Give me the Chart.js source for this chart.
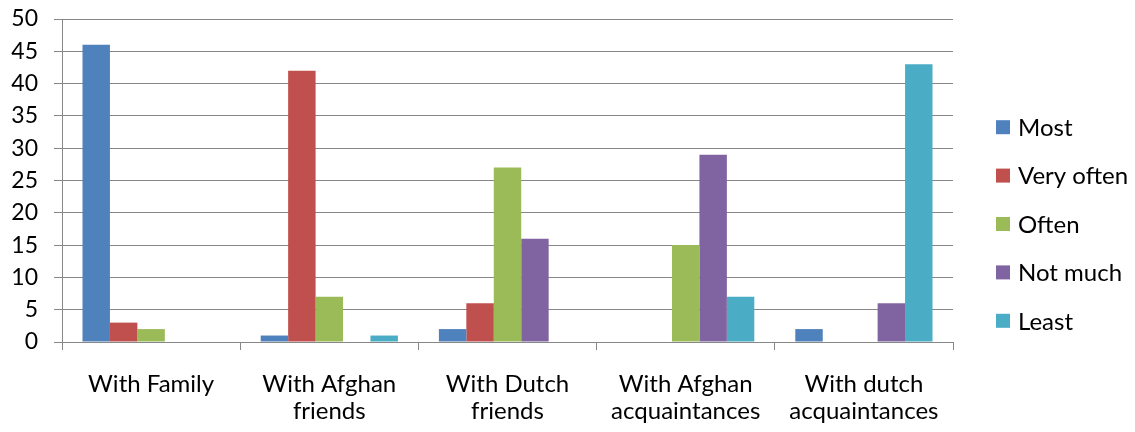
<!DOCTYPE html>
<html>
<head>
<meta charset="utf-8">
<script src="https://cdn.jsdelivr.net/npm/chart.js@4/dist/chart.umd.min.js"></script>
<style>
  html, body { margin: 0; padding: 0; background: #ffffff; }
  #wrap { width: 1135px; height: 432px; position: relative; }
</style>
</head>
<body>
<div id="wrap"><canvas id="chart"></canvas></div>
<script>
// Contact frequency per group
const categories = [
  ['With Family'],
  ['With Afghan', 'friends'],
  ['With Dutch', 'friends'],
  ['With Afghan', 'acquaintances'],
  ['With dutch', 'acquaintances']
];
const seriesNames = ['Most', 'Very often', 'Often', 'Not much', 'Least'];
const most      = [46, 1, 2, 0, 2];
const veryOften = [3, 42, 6, 0, 0];
const often     = [2, 7, 27, 15, 0];
const notMuch   = [0, 0, 16, 29, 6];
const least     = [0, 1, 0, 7, 43];
const yTicks    = [0, 5, 10, 15, 20, 25, 30, 35, 40, 45, 50];

const seriesValues = [most, veryOften, often, notMuch, least];
const seriesColors = ['#4F81BD', '#C0504D', '#9BBB59', '#8064A2', '#4BACC6'];

const FONT = 'Lato, "Open Sans", "DejaVu Sans", sans-serif';
const TICK_SIZE = 23;
const LABEL_SIZE = 24;
const GRID = '#878787';

// Legend on the right: colour square plus series name, stacked vertically
const sideLegend = {
  id: 'sideLegend',
  afterDraw(chart) {
    const ctx = chart.ctx;
    const ds = chart.data.datasets;
    const step = 48.4;
    const y0 = chart.height / 2 - step * (ds.length - 1) / 2 + 8;
    const x0 = chart.chartArea.right + 43;
    ctx.save();
    ctx.font = LABEL_SIZE + 'px ' + FONT;
    ctx.textBaseline = 'middle';
    ctx.textAlign = 'left';
    ds.forEach((d, i) => {
      const y = y0 + i * step;
      ctx.fillStyle = d.backgroundColor;
      ctx.fillRect(x0, y - 7, 14, 14);
      ctx.fillStyle = '#000000';
      ctx.fillText(d.label, x0 + 22, y + 1);
    });
    ctx.restore();
  }
};

new Chart(document.getElementById('chart'), {
  type: 'bar',
  data: {
    labels: categories,
    datasets: seriesNames.map((name, i) => ({
      label: name,
      data: seriesValues[i],
      backgroundColor: seriesColors[i],
      borderWidth: 0,
      categoryPercentage: 0.77,
      barPercentage: 1.0
    }))
  },
  options: {
    responsive: true,
    maintainAspectRatio: false,
    animation: false,
    layout: { padding: { left: 0, right: 182, top: 19, bottom: 0 } },
    plugins: {
      legend: { display: false },
      tooltip: { enabled: false }
    },
    scales: {
      x: {
        grid: {
          offset: true,
          drawOnChartArea: false,
          drawTicks: true,
          tickLength: 8,
          color: GRID,
          lineWidth: 1
        },
        border: { color: GRID, width: 1 },
        ticks: {
          color: '#000000',
          font: { family: FONT, size: LABEL_SIZE, lineHeight: 27 / LABEL_SIZE },
          padding: 21,
          maxRotation: 0,
          autoSkip: false
        },
        afterFit(scale) {
          scale.height = 90;
          scale.paddingLeft = 0;
          scale.paddingRight = 0;
        }
      },
      y: {
        min: 0,
        max: 50,
        afterBuildTicks(scale) { scale.ticks = yTicks.map(v => ({ value: v })); },
        grid: {
          color: GRID,
          lineWidth: 1,
          drawTicks: true,
          tickLength: 8
        },
        border: { color: GRID, width: 1 },
        ticks: {
          color: '#000000',
          font: { family: FONT, size: TICK_SIZE },
          padding: 16
        },
        afterFit(scale) {
          scale.width = 62;
          scale.paddingTop = 0;
          scale.paddingBottom = 0;
        }
      }
    }
  },
  plugins: [sideLegend]
});
</script>
</body>
</html>
